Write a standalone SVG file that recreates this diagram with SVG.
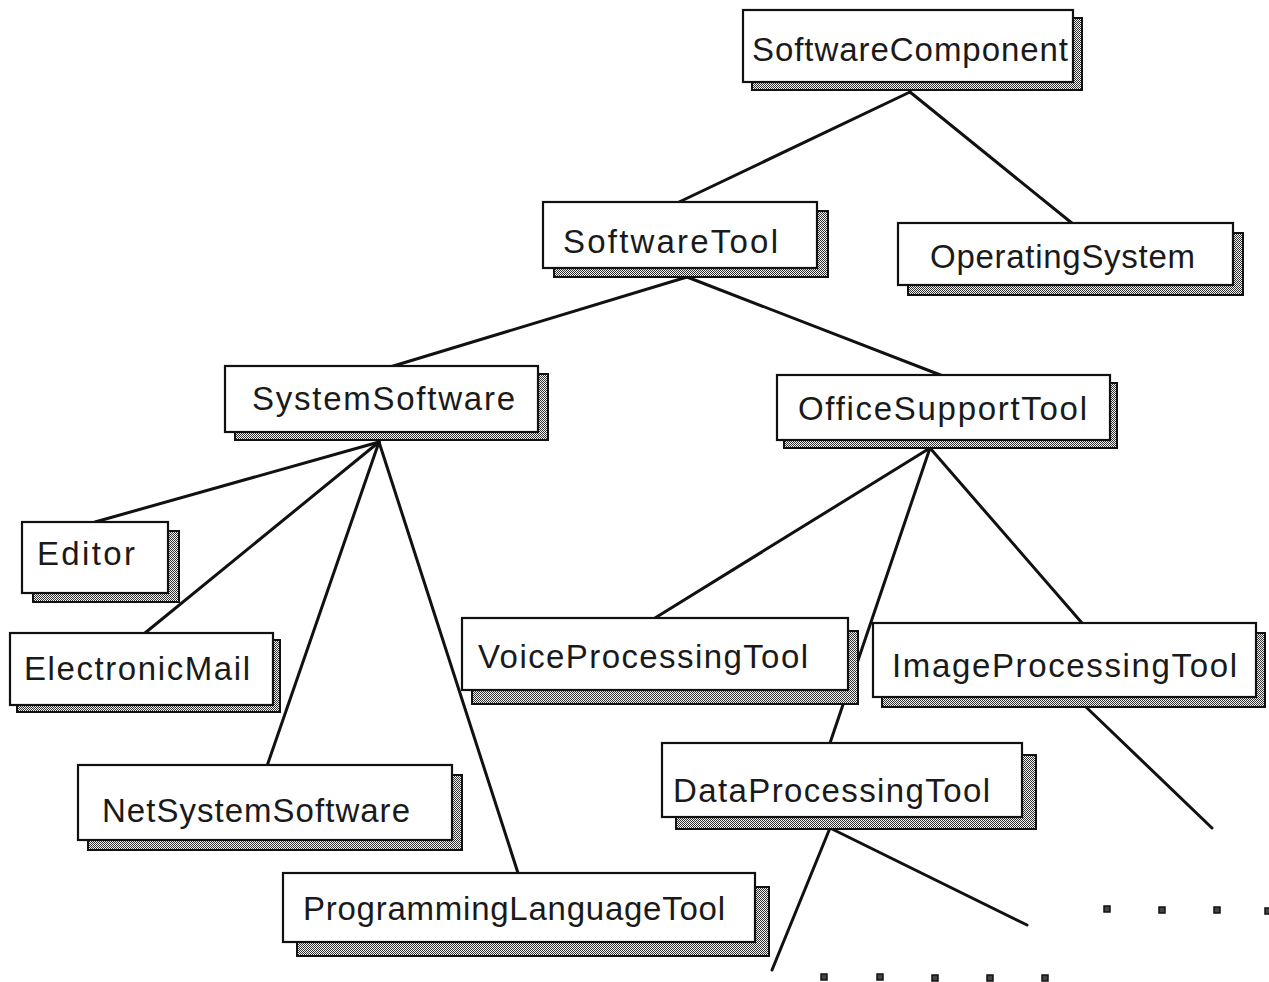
<svg xmlns="http://www.w3.org/2000/svg" width="1269" height="982" viewBox="0 0 1269 982">
  <defs>
    <!-- 50% checker dither used for the drop shadows and the continuation dots -->
    <pattern id="dither" width="2" height="2" patternUnits="userSpaceOnUse">
      <rect width="2" height="2" fill="#f2f2f2"/>
      <rect x="0" y="0" width="1" height="1" fill="#333"/>
      <rect x="1" y="1" width="1" height="1" fill="#333"/>
    </pattern>
    <style>
      .shadow { fill: url(#dither); stroke: #111; stroke-width: 2; }
      .box { fill: #ffffff; stroke: #111; stroke-width: 2.2; }
      .label { font-family: "Liberation Sans", Arial, Helvetica, sans-serif; font-size: 33px; fill: #1a1a1a; }
      .edge { stroke: #111; stroke-width: 3; stroke-linecap: round; fill: none; }
      .dot { fill: #444; stroke: #111; stroke-width: 1.5; }
    </style>
  </defs>

  <rect width="1269" height="982" fill="#ffffff"/>

  <!-- connectors (drawn first so the boxes sit on top) -->
  <g id="connectors">
    <line class="edge" x1="910" y1="92" x2="677" y2="203"/>
    <line class="edge" x1="910" y1="92" x2="1073" y2="224"/>
    <line class="edge" x1="687" y1="277" x2="390" y2="367"/>
    <line class="edge" x1="687" y1="277" x2="943" y2="376"/>
    <line class="edge" x1="379" y1="442" x2="95" y2="522"/>
    <line class="edge" x1="379" y1="442" x2="145" y2="633"/>
    <line class="edge" x1="379" y1="442" x2="267" y2="766"/>
    <line class="edge" x1="379" y1="442" x2="518" y2="873"/>
    <line class="edge" x1="930" y1="448" x2="655" y2="618"/>
    <line class="edge" x1="930" y1="448" x2="1082" y2="623"/>
    <line class="edge" x1="930" y1="448" x2="830" y2="743"/>
    <line class="edge" x1="1086" y1="707" x2="1212" y2="828"/>
    <line class="edge" x1="830" y1="828" x2="772" y2="970"/>
    <line class="edge" x1="830" y1="828" x2="1027" y2="925"/>
  </g>

  <g id="SoftwareComponent">
    <rect class="shadow" x="752" y="18" width="330" height="72"/>
    <rect class="box" x="743" y="10" width="330" height="72"/>
    <text class="label" x="752" y="61" textLength="316">SoftwareComponent</text>
  </g>

  <g id="SoftwareTool">
    <rect class="shadow" x="554" y="211" width="274" height="66"/>
    <rect class="box" x="543" y="202" width="274" height="66"/>
    <text class="label" x="563" y="253" textLength="215">SoftwareTool</text>
  </g>

  <g id="OperatingSystem">
    <rect class="shadow" x="908" y="233" width="335" height="62"/>
    <rect class="box" x="898" y="223" width="335" height="62"/>
    <text class="label" x="930" y="268" textLength="265">OperatingSystem</text>
  </g>

  <g id="SystemSoftware">
    <rect class="shadow" x="235" y="374" width="313" height="66"/>
    <rect class="box" x="225" y="366" width="313" height="66"/>
    <text class="label" x="252" y="410" textLength="263">SystemSoftware</text>
  </g>

  <g id="OfficeSupportTool">
    <rect class="shadow" x="784" y="383" width="333" height="65"/>
    <rect class="box" x="777" y="375" width="333" height="65"/>
    <text class="label" x="798" y="420" textLength="289">OfficeSupportTool</text>
  </g>

  <g id="Editor">
    <rect class="shadow" x="33" y="531" width="146" height="71"/>
    <rect class="box" x="22" y="522" width="146" height="71"/>
    <text class="label" x="37" y="565" textLength="98">Editor</text>
  </g>

  <g id="ElectronicMail">
    <rect class="shadow" x="17" y="640" width="263" height="72"/>
    <rect class="box" x="10" y="633" width="263" height="72"/>
    <text class="label" x="24" y="680" textLength="226">ElectronicMail</text>
  </g>

  <g id="VoiceProcessingTool">
    <rect class="shadow" x="472" y="631" width="386" height="73"/>
    <rect class="box" x="462" y="618" width="386" height="72"/>
    <text class="label" x="478" y="668" textLength="330">VoiceProcessingTool</text>
  </g>

  <g id="ImageProcessingTool">
    <rect class="shadow" x="882" y="633" width="383" height="74"/>
    <rect class="box" x="873" y="623" width="383" height="74"/>
    <text class="label" x="892" y="677" textLength="345">ImageProcessingTool</text>
  </g>

  <g id="DataProcessingTool">
    <rect class="shadow" x="676" y="755" width="360" height="74"/>
    <rect class="box" x="662" y="743" width="360" height="74"/>
    <text class="label" x="673" y="802" textLength="317">DataProcessingTool</text>
  </g>

  <g id="NetSystemSoftware">
    <rect class="shadow" x="88" y="775" width="374" height="75"/>
    <rect class="box" x="78" y="765" width="374" height="75"/>
    <text class="label" x="102" y="822" textLength="308">NetSystemSoftware</text>
  </g>

  <g id="ProgrammingLanguageTool">
    <rect class="shadow" x="297" y="887" width="472" height="69"/>
    <rect class="box" x="283" y="873" width="472" height="69"/>
    <text class="label" x="303" y="920" textLength="422">ProgrammingLanguageTool</text>
  </g>

  <!-- continuation dots below the truncated branches -->
  <g id="ellipsis-dots">
    <rect class="dot" x="821" y="974" width="6" height="6"/>
    <rect class="dot" x="877" y="974" width="6" height="6"/>
    <rect class="dot" x="932" y="975" width="6" height="6"/>
    <rect class="dot" x="987" y="975" width="6" height="6"/>
    <rect class="dot" x="1042" y="975" width="6" height="6"/>
    <rect class="dot" x="1104" y="906" width="6" height="6"/>
    <rect class="dot" x="1159" y="907" width="6" height="6"/>
    <rect class="dot" x="1214" y="907" width="6" height="6"/>
    <rect class="dot" x="1265" y="908" width="6" height="6"/>
  </g>
</svg>
